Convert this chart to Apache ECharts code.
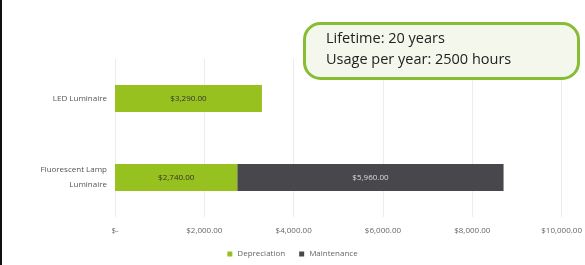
<!DOCTYPE html>
<html>
<head>
<meta charset="utf-8">
<script src="https://cdn.jsdelivr.net/npm/echarts@6/dist/echarts.min.js"></script>
<style>
  html,body{margin:0;padding:0;background:#fff;}
  #chart{width:585px;height:265px;}
</style>
</head>
<body>
<div id="chart"></div>
<script>
var categories = ['Fluorescent Lamp\nLuminaire', 'LED Luminaire'];
var depreciation = [2740, 3290];
var maintenance = [5960, null];
var seriesNames = ['Depreciation', 'Maintenance'];
var noteLines = ['Lifetime: 20 years', 'Usage per year: 2500 hours'];

function money(v){
	if(!v) return '$-';
	return '$' + v.toLocaleString('en-US', {minimumFractionDigits:2, maximumFractionDigits:2});
}

var myChart = echarts.init(document.getElementById('chart'));
var option = {
	animation:false,
	textStyle:{fontFamily:'Open Sans'},
	grid:{left:115, right:22, top:59, bottom:48, containLabel:false},
	legend:{
		data:seriesNames,
		bottom:2,
		left:'center',
		itemWidth:5, itemHeight:5, itemGap:14,
		icon:'rect',
		textStyle:{fontSize:8, color:'#666'}
	},
	xAxis:{
		type:'value', min:0, max:10000, interval:2000,
		axisLine:{show:false}, axisTick:{show:false},
		splitLine:{lineStyle:{color:'#ececec'}},
		axisLabel:{formatter:money, fontSize:8, color:'#666', margin:10}
	},
	yAxis:{
		type:'category', data:categories,
		axisLine:{show:false}, axisTick:{show:false},
		axisLabel:{fontSize:8, color:'#555', margin:8, lineHeight:15}
	},
	series:[
		{
			name:seriesNames[0], type:'bar', stack:'cost', data:depreciation,
			barWidth:27,
			itemStyle:{color:'#97c11f'},
			label:{show:true, position:'inside', formatter:function(p){return money(p.value);}, fontSize:8, color:'#333'}
		},
		{
			name:seriesNames[1], type:'bar', stack:'cost', data:maintenance,
			barWidth:27,
			itemStyle:{color:'#48484c'},
			label:{show:true, position:'inside', formatter:function(p){return money(p.value);}, fontSize:8, color:'#ddd'}
		}
	],
	graphic:[
		{type:'rect', z:100, left:0, top:0, shape:{width:2, height:265}, style:{fill:'#111'}},
		{type:'rect', z:100, left:303, top:22, shape:{width:274, height:55, r:16}, style:{fill:'#f3f7ec', stroke:'#86bd32', lineWidth:3}},
		{type:'text', z:101, left:326, top:31, style:{text:noteLines[0], fontSize:14.5, fill:'#222', fontFamily:'Open Sans'}},
		{type:'text', z:101, left:326, top:52, style:{text:noteLines[1], fontSize:14.5, fill:'#222', fontFamily:'Open Sans'}}
	]
};
myChart.setOption(option);
</script>
</body>
</html>
